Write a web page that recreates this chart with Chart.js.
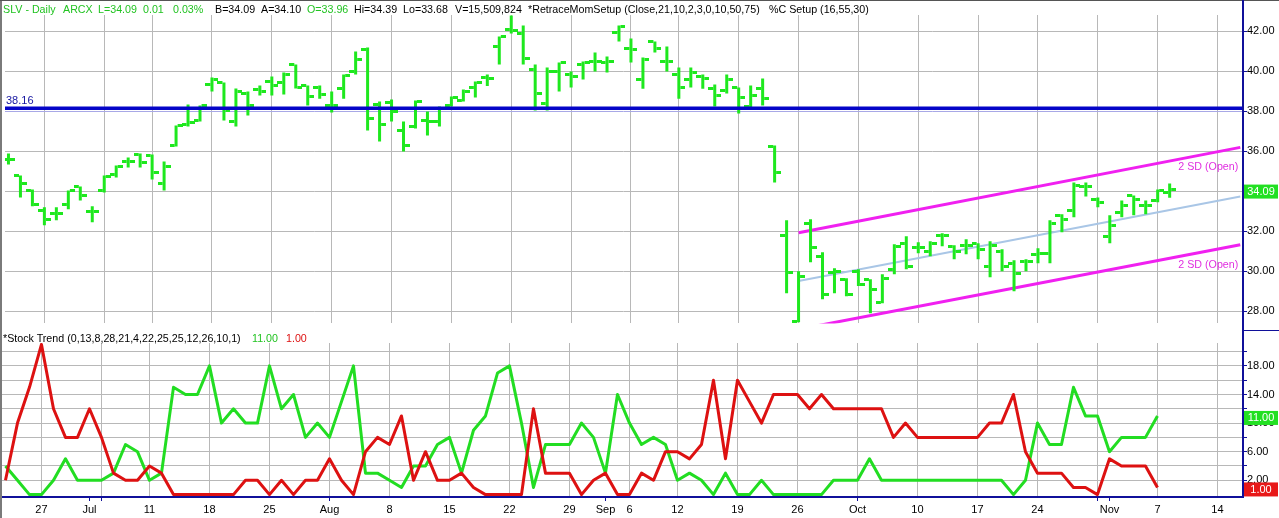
<!DOCTYPE html>
<html>
<head>
<meta charset="utf-8">
<script src="https://cdn.jsdelivr.net/npm/chart.js@4.4.1/dist/chart.umd.min.js"></script>
<style>
  html, body { margin: 0; padding: 0; background: #fff; }
  #wrap { position: relative; width: 1279px; height: 518px; overflow: hidden; background: #fff;
          font-family: "Liberation Sans", Arial, sans-serif; }
  canvas { position: absolute; left: 0; }
  #cTop { top: 0; }
  #cBot { top: 330px; }
  .hdr { position: absolute; white-space: pre; font-size: 10.7px; line-height: 10.7px; }
  .hdr span { position: absolute; top: 0; }
  .g { color: #22c322; }
  .k { color: #000; }
  .r { color: #dd1111; }
  .deco { position: absolute; }
</style>
</head>
<body>
<div id="wrap">
  <canvas id="cTop" width="1279" height="330"></canvas>
  <canvas id="cBot" width="1279" height="188"></canvas>

  <div class="hdr" style="left:0; top:3.5px;">
    <span class="g" style="left:3px">SLV - Daily</span>
    <span class="g" style="left:63px">ARCX</span>
    <span class="g" style="left:98px">L=34.09</span>
    <span class="g" style="left:143px">0.01</span>
    <span class="g" style="left:173px">0.03%</span>
    <span class="k" style="left:215px">B=34.09</span>
    <span class="k" style="left:261px">A=34.10</span>
    <span class="g" style="left:307px">O=33.96</span>
    <span class="k" style="left:354px">Hi=34.39</span>
    <span class="k" style="left:403px">Lo=33.68</span>
    <span class="k" style="left:455px">V=15,509,824</span>
    <span class="k" style="left:528px">*RetraceMomSetup (Close,21,10,2,3,0,10,50,75)</span>
    <span class="k" style="left:769px">%C Setup (16,55,30)</span>
  </div>
  <div class="hdr" style="left:0; top:333px;">
    <span class="k" style="left:3px">*Stock Trend (0,13,8,28,21,4,22,25,25,12,26,10,1)</span>
    <span class="g" style="left:252px">11.00</span>
    <span class="r" style="left:286px">1.00</span>
  </div>

  <div class="deco" style="left:0;top:0;width:2px;height:518px;background:#7a7a7a;"></div>
  <div class="deco" style="left:0;top:0;width:1279px;height:1px;background:#555;"></div>
  <div class="deco" style="left:1242px;top:0;width:2px;height:497px;background:#10109a;"></div>
  <div class="deco" style="left:1243px;top:330px;width:36px;height:1px;background:#10109a;"></div>
</div>

<script>
// ---------------- DATA ----------------
const dates = [
  'Jun 22','Jun 23','Jun 24','Jun 27','Jun 28','Jun 29','Jun 30',
  'Jul 1','Jul 5','Jul 6','Jul 7','Jul 8','Jul 11','Jul 12','Jul 13','Jul 14','Jul 15','Jul 18','Jul 19','Jul 20','Jul 21','Jul 22','Jul 25','Jul 26','Jul 27','Jul 28','Jul 29',
  'Aug 1','Aug 2','Aug 3','Aug 4','Aug 5','Aug 8','Aug 9','Aug 10','Aug 11','Aug 12','Aug 15','Aug 16','Aug 17','Aug 18','Aug 19','Aug 22','Aug 23','Aug 24','Aug 25','Aug 26','Aug 29','Aug 30','Aug 31',
  'Sep 1','Sep 2','Sep 6','Sep 7','Sep 8','Sep 9','Sep 12','Sep 13','Sep 14','Sep 15','Sep 16','Sep 19','Sep 20','Sep 21','Sep 22','Sep 23','Sep 26','Sep 27','Sep 28','Sep 29','Sep 30',
  'Oct 3','Oct 4','Oct 5','Oct 6','Oct 7','Oct 10','Oct 11','Oct 12','Oct 13','Oct 14','Oct 17','Oct 18','Oct 19','Oct 20','Oct 21','Oct 24','Oct 25','Oct 26','Oct 27','Oct 28','Oct 31',
  'Nov 1','Nov 2','Nov 3','Nov 4','Nov 7','Nov 8'
];

const opens = [
  35.6,34.78,34.05,33.05,32.9,33.35,34.25,33.0,34.05,34.85,
  35.5,35.85,35.8,34.4,36.3,37.35,37.55,39.35,39.45,37.5,
  38.9,39.1,39.5,39.45,40.35,39.28,39.2,38.3,39.15,40.0,
  41.1,38.35,38.45,37.05,37.25,37.55,37.5,38.3,38.55,39.2,
  39.7,41.25,42.1,41.9,40.1,38.4,40.0,39.85,40.35,40.5,
  40.45,41.95,41.15,39.6,41.5,40.5,39.85,39.6,39.75,39.15,
  39.05,39.2,38.25,39.15,36.25,31.77,27.5,32.4,30.75,29.95,
  29.6,30.0,29.6,28.45,30.1,31.4,31.2,31.0,31.8,31.25,
  31.3,31.4,30.25,31.0,30.4,30.5,30.85,30.9,32.8,33.05,
  34.25,33.6,31.75,32.95,33.8,33.3,33.55,33.96
];
const highs = [
  35.9,34.8,34.1,33.2,33.2,34.05,34.25,33.25,34.8,35.3,
  35.7,35.9,35.85,35.5,37.3,38.35,38.3,39.7,39.45,39.15,
  39.0,39.3,39.75,39.95,40.35,39.3,39.3,39.0,39.85,41.0,
  41.2,38.5,38.6,37.5,38.55,38.0,38.25,38.75,39.1,39.5,
  39.85,41.75,42.8,42.3,40.35,40.2,40.45,40.0,40.5,40.95,
  40.75,42.3,41.65,40.7,41.5,41.25,40.2,40.2,39.85,39.35,
  39.85,39.2,39.3,39.65,36.3,32.55,30.0,32.6,30.95,30.15,
  29.65,30.1,29.6,29.85,31.35,31.75,31.45,31.5,31.9,31.3,
  31.6,31.4,31.5,31.1,30.55,30.6,31.15,32.55,32.85,34.45,
  34.45,33.7,32.8,33.55,33.8,33.55,34.1,34.39
];
const lows = [
  35.35,33.7,33.25,32.3,32.55,33.1,33.55,32.45,33.95,34.7,
  35.2,35.2,34.6,34.05,36.25,37.25,37.5,39.0,37.55,37.25,
  37.8,38.8,38.8,38.85,39.15,38.3,38.63,37.95,38.63,39.85,
  37.05,36.5,37.5,36.0,37.15,36.8,37.25,38.25,38.5,38.7,
  39.27,40.35,41.9,40.35,38.05,38.05,39.0,39.2,39.6,40.0,
  39.95,41.5,40.45,39.13,40.95,40.0,38.63,39.2,39.13,38.25,
  38.9,37.9,38.15,38.3,34.45,28.9,27.45,30.45,28.6,28.9,
  28.75,29.27,27.9,28.4,29.85,30.1,30.9,30.75,31.25,30.6,
  30.85,30.6,29.7,30.0,29.0,30.0,30.4,30.4,31.95,32.7,
  33.75,33.2,31.4,32.7,32.8,32.85,33.45,33.68
];
const closes = [
  35.6,34.4,33.35,32.6,32.9,34.05,33.8,33.0,34.75,35.25,
  35.5,35.45,34.95,35.25,37.3,37.45,38.3,39.6,38.05,39.0,
  38.3,39.0,39.3,39.85,39.2,38.75,38.85,38.3,39.8,40.6,
  37.65,37.35,38.0,36.3,38.5,37.5,38.15,38.7,39.0,39.45,
  39.65,41.75,42.05,40.65,38.9,40.0,40.45,39.75,40.45,40.5,
  40.5,42.25,41.1,40.6,41.15,40.5,39.2,39.95,39.65,38.78,
  39.6,38.7,38.78,38.63,34.95,29.95,29.75,31.2,28.85,30.0,
  28.85,29.35,29.1,29.65,31.25,30.25,31.2,31.4,31.8,31.0,
  31.3,31.1,31.3,30.25,29.9,30.5,30.9,32.4,32.6,34.3,
  34.25,33.45,32.3,33.3,33.6,33.3,34.05,34.09
];

// Horizontal reference level and linear-regression channel (x = trading-day index)
const refLevel = 38.16;
const refLineX = [-1, 104];
const channelX = [66, 102.9];
const channelMid = [29.52, 33.74];
const channelUpper = [31.93, 36.2];
const channelLower = [27.1, 31.33];

// Stock Trend indicator (through Nov 7)
const trendGreen = [
  4,2,0,0,2,5,2,2,2,3,7,6,2,3,15,14,14,18,10,12,
  10,10,18,12,14,8,10,8,13,18,3,3,2,1,4,4,7,8,3,9,
  11,17,18,10,1,7,7,7,10,8,3,14,10,7,8,7,2,3,2,0,
  3,0,0,2,0,0,0,0,0,2,2,2,5,2,2,2,2,2,2,2,
  2,2,2,2,0,2,10,7,7,15,11,11,6,8,8,8,11
];
const trendRed = [
  2,10,15,21,12,8,8,12,8,3,2,2,4,3,0,0,0,0,0,0,
  2,2,0,2,0,2,2,5,2,0,6,8,7,11,2,6,2,2,3,1,
  0,0,0,0,12,3,3,3,0,2,3,0,0,3,2,6,6,5,7,16,
  5,16,13,10,14,14,14,12,14,12,12,12,12,12,8,10,8,8,8,8,
  8,8,10,10,14,6,3,3,3,1,1,0,5,4,4,4,1
];

// Axis ticks
const xLabelIdx  = [3, 7, 12, 17, 22, 27, 32, 37, 42, 47, 50, 52, 56, 61, 66, 71, 76, 81, 86, 92, 96, 101];
const xLabelText = ['27','Jul','11','18','25','Aug','8','15','22','29','Sep','6','12','19','26','Oct','10','17','24','Nov','7','14'];
const weekGridIdx = [3, 8, 12, 17, 22, 27, 32, 37, 42, 47, 52, 56, 61, 66, 71, 76, 81, 86, 91, 96, 101];
const axisTickMarkIdx = [7, 8, 27, 50, 71, 91, 92];
const priceTicks = [28, 30, 32, 34, 36, 38, 40, 42];
const trendTicks = [2, 4, 6, 8, 10, 12, 14, 16, 18, 20];
const trendLabelled = [2, 6, 10, 14, 18];

// ---------------- STYLE ----------------
const FONT = '"Liberation Sans", Arial, sans-serif';
const BAR_GREEN = '#1ee81e';
const LINE_GREEN = '#22dd22';
const LINE_RED = '#dd1111';
const MAGENTA = '#f020f0';
const LIGHT_BLUE = '#a9c6e6';
const REF_BLUE = '#0505c8';
const AXIS_BLUE = '#10109a';
const GRID = '#b8b8b8';
const CLEAR = 'rgba(0,0,0,0)';

Chart.defaults.font.family = FONT;
Chart.defaults.font.size = 11;
Chart.defaults.color = '#000';

const X_MIN = -0.29;
const X_MAX = X_MIN + 1241 / 12;

const weekSet = new Set(weekGridIdx);
const tickMarkSet = new Set(axisTickMarkIdx);
const labelMap = {};
xLabelIdx.forEach((v, i) => { labelMap[v] = xLabelText[i]; });

function tickImage(side) {
  const c = document.createElement('canvas');
  c.width = 13; c.height = 3;
  const g = c.getContext('2d');
  g.fillStyle = BAR_GREEN;
  if (side === 'left') g.fillRect(0, 0, 5, 3); else g.fillRect(8, 0, 5, 3);
  return c;
}
const openImg = tickImage('left');
const closeImg = tickImage('right');

function valueBox(chart, value, bg) {
  const { ctx, scales: { y } } = chart;
  const py = y.getPixelForValue(value) + 2;
  const x0 = y.left + 1, x1 = chart.width - 1;
  ctx.save();
  ctx.fillStyle = bg;
  ctx.fillRect(x0, py - 7, x1 - x0, 14);
  ctx.fillStyle = '#fff';
  ctx.font = '11px ' + FONT;
  ctx.textAlign = 'center';
  ctx.textBaseline = 'middle';
  ctx.fillText(value.toFixed(2), (x0 + x1) / 2, py + 0.5);
  ctx.restore();
}

// ---------------- TOP PANEL ----------------
const days = dates.map((_, i) => i);
const topLabels = {
  id: 'topLabels',
  afterDatasetsDraw(chart) {
    const { ctx, chartArea, scales: { x, y } } = chart;
    ctx.save();
    ctx.font = '11px ' + FONT;
    ctx.fillStyle = '#1414a0';
    ctx.textAlign = 'left';
    ctx.textBaseline = 'alphabetic';
    ctx.fillText(refLevel.toFixed(2), chartArea.left + 1, y.getPixelForValue(refLevel) - 4);
    ctx.font = '10.7px ' + FONT;
    ctx.fillStyle = '#e030e0';
    ctx.textAlign = 'right';
    const xe = x.getPixelForValue(channelX[1]) - 2;
    ctx.fillText('2 SD (Open)', xe, y.getPixelForValue(channelUpper[1]) + 23);
    ctx.fillText('2 SD (Open)', xe, y.getPixelForValue(channelLower[1]) + 23);
    ctx.restore();
  },
  afterDraw(chart) {
    valueBox(chart, closes[closes.length - 1], '#22e022');
  }
};

new Chart(document.getElementById('cTop'), {
  type: 'scatter',
  data: {
    datasets: [
      { type: 'line', order: 0, data: refLineX.map(v => ({ x: v, y: refLevel })),
        borderColor: REF_BLUE, borderWidth: 3.5, pointRadius: 0, showLine: true, clip: 0 },
      { type: 'bar', order: 1, data: days.map(i => ({ x: i, y: [lows[i], highs[i]] })),
        backgroundColor: BAR_GREEN, borderWidth: 0, barThickness: 3, inflateAmount: 0 },
      { type: 'scatter', order: 1, data: days.map(i => ({ x: i, y: opens[i] })),
        pointStyle: openImg, pointRadius: 4 },
      { type: 'scatter', order: 1, data: days.map(i => ({ x: i, y: closes[i] })),
        pointStyle: closeImg, pointRadius: 4 },
      { type: 'line', order: 2, data: channelX.map((v, i) => ({ x: v, y: channelMid[i] })),
        borderColor: LIGHT_BLUE, borderWidth: 2, pointRadius: 0, showLine: true, clip: 0 },
      { type: 'line', order: 2, data: channelX.map((v, i) => ({ x: v, y: channelUpper[i] })),
        borderColor: MAGENTA, borderWidth: 3, pointRadius: 0, showLine: true, clip: 0 },
      { type: 'line', order: 2, data: channelX.map((v, i) => ({ x: v, y: channelLower[i] })),
        borderColor: MAGENTA, borderWidth: 3, pointRadius: 0, showLine: true, clip: 0 }
    ]
  },
  options: {
    responsive: false, animation: false, events: [], devicePixelRatio: 1,
    layout: { padding: { left: 2, top: 15, right: 0, bottom: 2 } },
    plugins: { legend: { display: false }, tooltip: { enabled: false } },
    scales: {
      x: {
        type: 'linear', min: X_MIN, max: X_MAX, offset: false,
        afterBuildTicks: s => { s.ticks = weekGridIdx.map(v => ({ value: v })); },
        afterFit: s => { s.height = 0; },
        ticks: { display: false },
        grid: { color: GRID, drawTicks: false, offset: false },
        border: { display: false }
      },
      y: {
        type: 'linear', position: 'right', min: 27.396, max: 42.823,
        afterBuildTicks: s => { s.ticks = priceTicks.map(v => ({ value: v })); },
        afterFit: s => { s.width = 36; },
        ticks: { callback: v => Number(v).toFixed(2), padding: 0, font: { size: 11 }, color: '#000' },
        grid: { color: c => (c.tick && c.tick.value === 38) ? '#a8a8e6' : GRID, tickColor: AXIS_BLUE, tickLength: 4 },
        border: { color: AXIS_BLUE, width: 2 }
      }
    }
  },
  plugins: [topLabels]
});

// ---------------- BOTTOM PANEL ----------------
const trendDays = trendGreen.map((_, i) => i);
const botBoxes = {
  id: 'botBoxes',
  afterDraw(chart) {
    valueBox(chart, trendGreen[trendGreen.length - 1], '#22e022');
    valueBox(chart, trendRed[trendRed.length - 1], '#e81818');
  }
};

new Chart(document.getElementById('cBot'), {
  type: 'scatter',
  data: {
    datasets: [
      { type: 'line', order: 0, data: trendDays.map(i => ({ x: i, y: trendRed[i] })),
        borderColor: LINE_RED, borderWidth: 3, pointRadius: 0, showLine: true,
        borderJoinStyle: 'round', tension: 0 },
      { type: 'line', order: 1, data: trendDays.map(i => ({ x: i, y: trendGreen[i] })),
        borderColor: LINE_GREEN, borderWidth: 3, pointRadius: 0, showLine: true,
        borderJoinStyle: 'round', tension: 0 }
    ]
  },
  options: {
    responsive: false, animation: false, events: [], devicePixelRatio: 1,
    layout: { padding: { left: 2, top: 13, right: 0, bottom: 0 } },
    plugins: { legend: { display: false }, tooltip: { enabled: false } },
    scales: {
      x: {
        type: 'linear', min: X_MIN, max: X_MAX, offset: false,
        afterBuildTicks: s => {
          const all = Array.from(new Set([...xLabelIdx, ...weekGridIdx])).sort((a, b) => a - b);
          s.ticks = all.map(v => ({ value: v }));
        },
        afterFit: s => { s.height = 21; },
        ticks: { autoSkip: false, maxRotation: 0, minRotation: 0, padding: 2,
                 callback: v => (labelMap[v] !== undefined ? labelMap[v] : ''),
                 font: { size: 11 }, color: '#000' },
        grid: {
          color: c => (c.tick && weekSet.has(c.tick.value)) ? GRID : CLEAR,
          tickColor: c => (c.tick && tickMarkSet.has(c.tick.value)) ? AXIS_BLUE : CLEAR,
          tickLength: 4, offset: false
        },
        border: { color: AXIS_BLUE, width: 2 }
      },
      y: {
        type: 'linear', position: 'right', min: -0.336, max: 21.2,
        afterBuildTicks: s => { s.ticks = trendTicks.map(v => ({ value: v })); },
        afterFit: s => { s.width = 36; },
        ticks: { callback: v => trendLabelled.includes(Number(v)) ? Number(v).toFixed(2) : '',
                 padding: 0, font: { size: 11 }, color: '#000' },
        grid: { color: GRID, tickColor: AXIS_BLUE, tickLength: 4 },
        border: { color: AXIS_BLUE, width: 2 }
      }
    }
  },
  plugins: [botBoxes]
});
</script>
</body>
</html>
